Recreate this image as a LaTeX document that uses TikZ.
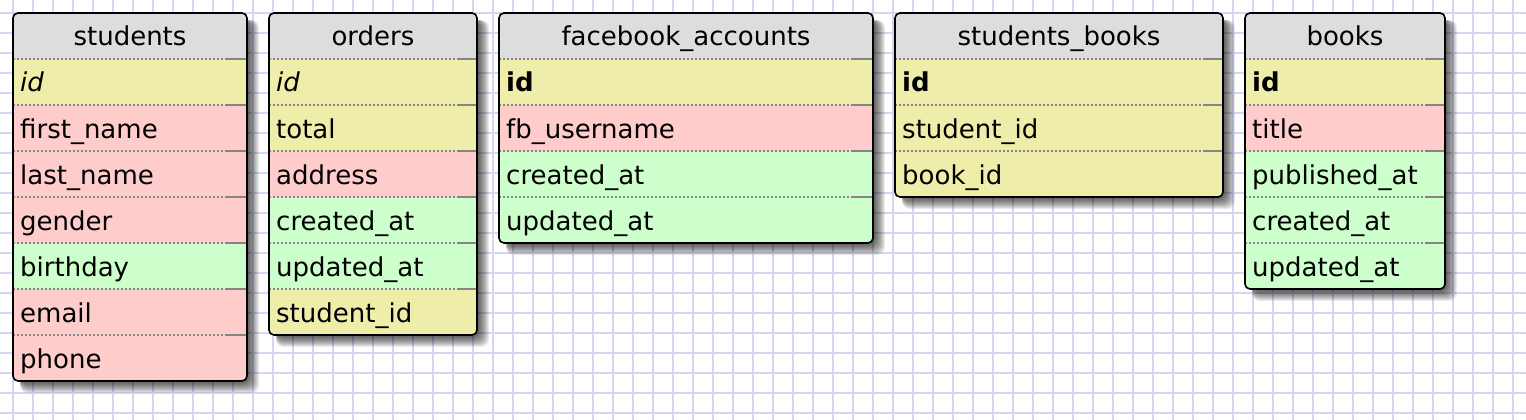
\documentclass[tikz,border=0pt]{standalone}
\usepackage{fontspec}
\setmainfont{DejaVu Sans}
\definecolor{hdr}{HTML}{DDDDDD}
\definecolor{ky}{HTML}{EEEEAA}
\definecolor{rd}{HTML}{FFCCCC}
\definecolor{gr}{HTML}{CCFFCC}
\definecolor{gridc}{HTML}{D6D6F2}
\definecolor{sepc}{HTML}{858585}
\tikzset{
  cell/.style={anchor=base west, inner sep=0pt, font=\fontsize{26}{30}\selectfont},
  ttl/.style={anchor=base, inner sep=0pt, font=\fontsize{26}{30}\selectfont},
  sepline/.style={draw=sepc, line width=1.8pt, dash pattern=on 1.8pt off 2.2pt},
  sepend/.style={draw=sepc, line width=1.8pt},
  frame/.style={draw=black, line width=1.6pt, rounded corners=5pt},
  gridline/.style={draw=gridc, line width=1.5pt},
}
\newcommand\erdtable[6]{%
  \pgfmathsetmacro\yb{59+46*#4}
  \foreach \s in {0,...,11}{\fill[black,opacity=0.075,rounded corners=8pt] (#2+7,20) rectangle (#3+1+\s,\yb+1+\s);}
  \begin{scope}
    \clip[rounded corners=5pt] (#2,13) rectangle (#3,\yb);
    \fill[hdr] (#2,13) rectangle (#3,59);
    \foreach \c/\t/\f [count=\i] in {#6}{
       \fill[fill=\c] (#2,13+46*\i) rectangle (#3,59+46*\i);
    }
  \end{scope}
  \node[ttl] (#1-h) at ({(#2+#3)/2},46) {#5};
  \foreach \c/\t/\f [count=\i] in {#6}{
     \draw[sepline] (#2,13+46*\i) -- (#3-20,13+46*\i);
     \draw[sepend] (#3-20,13+46*\i) -- (#3,13+46*\i);
     \node[cell] (#1-\i) at (#2+7,46+46*\i) {\f\t};
  }
  \draw[frame] (#2,13) rectangle (#3,\yb);
}
\begin{document}
\begin{tikzpicture}[x=1pt,y=-1pt]
\useasboundingbox (0,0) rectangle (1526,420);
\fill[white] (0,0) rectangle (1526,420);
\foreach \x in {13,33,...,1526} \draw[gridline] (\x,0) -- (\x,420);
\foreach \y in {13,33,...,420} \draw[gridline] (0,\y) -- (1526,\y);
\erdtable{students}{13}{247}{7}{students}{ky/id/\itshape, rd/first\_name/\upshape, rd/last\_name/\upshape, rd/gender/\upshape, gr/birthday/\upshape, rd/email/\upshape, rd/phone/\upshape}
\erdtable{orders}{269}{477}{6}{orders}{ky/id/\itshape, ky/total/\upshape, rd/address/\upshape, gr/created\_at/\upshape, gr/updated\_at/\upshape, ky/student\_id/\upshape}
\erdtable{fb}{499}{873}{4}{facebook\_accounts}{ky/id/\bfseries, rd/fb\_username/\upshape, gr/created\_at/\upshape, gr/updated\_at/\upshape}
\erdtable{sb}{895}{1223}{3}{students\_books}{ky/id/\bfseries, ky/student\_id/\upshape, ky/book\_id/\upshape}
\erdtable{books}{1245}{1445}{5}{books}{ky/id/\bfseries, rd/title/\upshape, gr/published\_at/\upshape, gr/created\_at/\upshape, gr/updated\_at/\upshape}
\end{tikzpicture}
\end{document}
